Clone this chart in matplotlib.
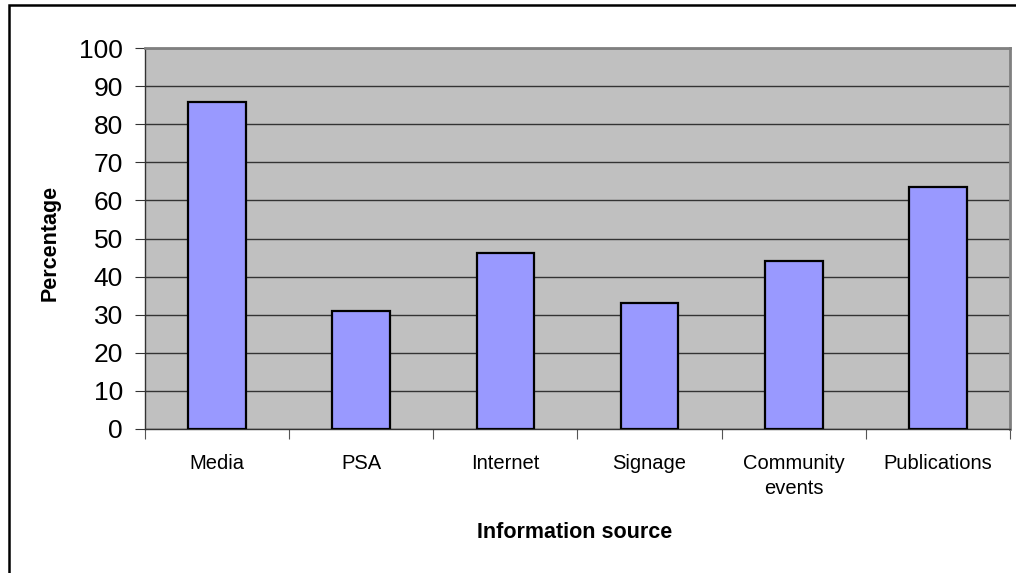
import numpy as np
import matplotlib.pyplot as plt
from matplotlib.patches import Rectangle

# Survey data: share of respondents citing each information source
categories = ["Media", "PSA", "Internet", "Signage", "Community\nevents", "Publications"]
percentages = [85.8, 31.0, 46.3, 33.0, 44.2, 63.6]
y_ticks = list(range(0, 101, 10))

plt.rcParams['font.family'] = ['Liberation Sans', 'DejaVu Sans']

fig = plt.figure(figsize=(10.16, 5.73), dpi=100)
ax = fig.add_axes([0.1427, 0.2518, 0.8514, 0.6639])

x = np.arange(len(categories))
ax.bar(x, percentages, width=0.40, color='#9999FF', edgecolor='black',
       linewidth=1.6, zorder=3)

# Plot area styling
ax.set_facecolor('#C0C0C0')
ax.set_xlim(-0.5, len(categories) - 0.5)
ax.set_ylim(0, 100)
ax.set_yticks(y_ticks)
ax.yaxis.grid(True, color='#333333', linewidth=1.0, zorder=1)
ax.tick_params(axis='y', labelsize=19, length=7, width=0.8, color='#333333', pad=9)

# x ticks at the category boundaries, labels at the centres
ax.set_xticks(np.arange(len(categories) + 1) - 0.5)
ax.set_xticklabels([])
ax.tick_params(axis='x', which='major', length=7, width=0.8, color='#555555')
ax.set_xticks(x, minor=True)
ax.set_xticklabels(categories, minor=True, fontsize=14.5, linespacing=1.4)
ax.tick_params(axis='x', which='minor', length=0, pad=18)

for side in ['left', 'bottom']:
    ax.spines[side].set_color('#333333')
    ax.spines[side].set_linewidth(1.0)
for side in ['top', 'right']:
    ax.spines[side].set_color('#808080')
    ax.spines[side].set_linewidth(2.0)

# Axis titles
fig.text(50 / 1016, 1 - 243 / 573, 'Percentage', rotation=90, fontsize=15.5,
         fontweight='bold', ha='center', va='center')
fig.text(575 / 1016, 1 - 533 / 573, 'Information source', fontsize=15.5,
         fontweight='bold', ha='center', va='center')

# Outer chart border (cropped at right and bottom)
fig.patches.append(Rectangle((8.5 / 1016, -0.1), 1.2, 1 - 4.7 / 573 + 0.1,
                             transform=fig.transFigure, fill=False,
                             edgecolor='black', linewidth=1.8))

fig.savefig('out.png', dpi=100)
